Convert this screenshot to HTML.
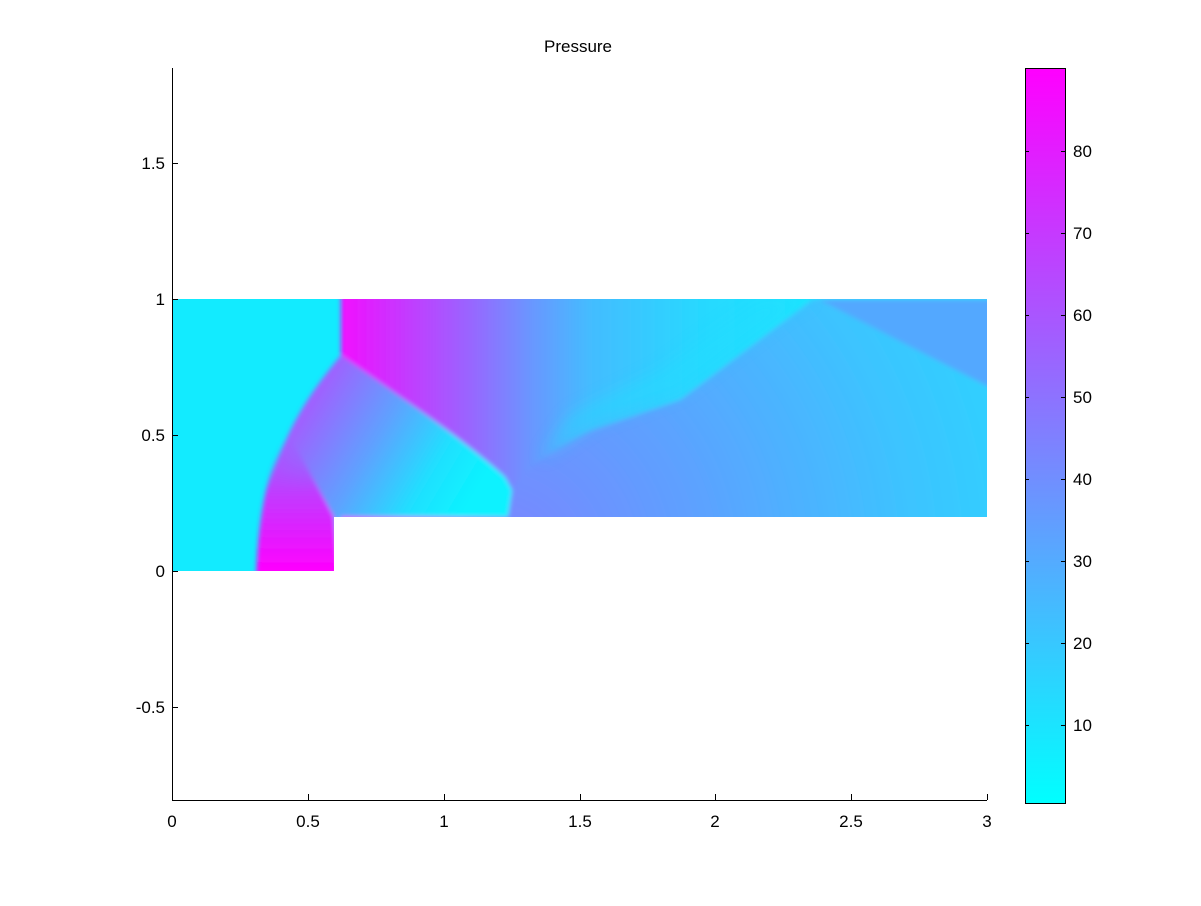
<!DOCTYPE html>
<html><head><meta charset="utf-8"><style>
body{margin:0;background:#fff}
svg text{font-family:"Liberation Sans",sans-serif;font-size:17px;fill:#000}
</style></head><body>
<svg width="1201" height="901" viewBox="0 0 1201 901" xmlns="http://www.w3.org/2000/svg">
<defs>
<linearGradient id="cb" x1="0" y1="1" x2="0" y2="0"><stop offset="0" stop-color="#00ffff"/><stop offset="1" stop-color="#ff00ff"/></linearGradient>
<linearGradient id="top" x1="343" y1="0" x2="800" y2="0" gradientUnits="userSpaceOnUse">
<stop offset="0" stop-color="#f010ff"/><stop offset="0.125" stop-color="#c836ff"/><stop offset="0.28" stop-color="#9866ff"/><stop offset="0.41" stop-color="#6a96ff"/><stop offset="0.54" stop-color="#44bcff"/><stop offset="0.78" stop-color="#28d8ff"/><stop offset="1" stop-color="#1ee4ff"/></linearGradient>
<linearGradient id="mid" x1="300" y1="420" x2="460" y2="515" gradientUnits="userSpaceOnUse">
<stop offset="0" stop-color="#a060ff"/><stop offset="0.4" stop-color="#60a0ff"/><stop offset="0.75" stop-color="#20e0ff"/><stop offset="1" stop-color="#0cf2ff"/></linearGradient>
<linearGradient id="mag" x1="0" y1="440" x2="0" y2="571" gradientUnits="userSpaceOnUse">
<stop offset="0" stop-color="#b048ff" stop-opacity="0"/><stop offset="0.4" stop-color="#c03cff"/><stop offset="1" stop-color="#ff00ff"/></linearGradient>
<radialGradient id="rl" cx="500" cy="560" r="520" gradientUnits="userSpaceOnUse">
<stop offset="0" stop-color="#7c84ff"/><stop offset="0.4" stop-color="#5ca2ff"/><stop offset="0.8" stop-color="#3cc4ff"/><stop offset="1" stop-color="#30d0ff"/></radialGradient>
<filter id="bl"><feGaussianBlur stdDeviation="2.5"/></filter>
<filter id="bl2"><feGaussianBlur stdDeviation="8"/></filter>
</defs>
<clipPath id="dom"><path d="M172,299H987V517H334V571H172Z"/></clipPath>
<g clip-path="url(#dom)">
<rect x="172" y="299" width="815" height="272" fill="#12ebff"/>
<g filter="url(#bl)">
<rect x="341" y="290" width="660" height="240" fill="url(#top)"/>
<path d="M341,355 C300,405 262,460 256,580 L340,580 L340,517 L508,517 L512,490 L505,477 Q470,445 405,400 Z" fill="url(#mid)"/>
<path d="M288,433 C270,465 259,500 256,580 L340,580 L334,517 Z" fill="url(#mag)"/>
<path d="M508,530 L512,490 Q530,460 592,430 L680,400 L813,299 L1000,299 L1000,530 Z" fill="url(#rl)"/>
<path d="M818,299 L1000,299 L1000,388 L987,386 Z" fill="#52a8ff"/>
</g>
<path d="M540,460 L592,425 L680,392 L790,310 L813,299 L760,299 L660,370 L570,415 Z" fill="#22dcff" opacity="0.5" filter="url(#bl2)"/>
</g>
<g stroke="#000" stroke-width="1" fill="none">
<path d="M172.5,68V800.5H987"/>
<path d="M172,163.5h6M172,299.5h6M172,435.5h6M172,571.5h6M172,707.5h6"/>
<path d="M172.5,800v-6M308.5,800v-6M444.5,800v-6M580.5,800v-6M715.5,800v-6M851.5,800v-6M987.5,800v-6"/>
</g>
<g text-anchor="end">
<text x="165" y="169">1.5</text><text x="165" y="305">1</text><text x="165" y="441">0.5</text><text x="165" y="577">0</text><text x="165" y="713">-0.5</text>
</g>
<g text-anchor="middle">
<text x="172" y="827">0</text><text x="308" y="827">0.5</text><text x="444" y="827">1</text><text x="580" y="827">1.5</text><text x="715" y="827">2</text><text x="851" y="827">2.5</text><text x="987" y="827">3</text>
<text x="578" y="52">Pressure</text>
</g>
<rect x="1025.5" y="68.5" width="40" height="735" fill="url(#cb)" stroke="#000"/>
<g stroke="#000"><path d="M1025,725.5h4M1061,725.5h4M1025,643.5h4M1061,643.5h4M1025,561.5h4M1061,561.5h4M1025,479.5h4M1061,479.5h4M1025,397.5h4M1061,397.5h4M1025,315.5h4M1061,315.5h4M1025,233.5h4M1061,233.5h4M1025,151.5h4M1061,151.5h4"/></g>
<g>
<text x="1073" y="731">10</text><text x="1073" y="649">20</text><text x="1073" y="567">30</text><text x="1073" y="485">40</text><text x="1073" y="403">50</text><text x="1073" y="321">60</text><text x="1073" y="239">70</text><text x="1073" y="157">80</text>
</g>
</svg>
</body></html>
